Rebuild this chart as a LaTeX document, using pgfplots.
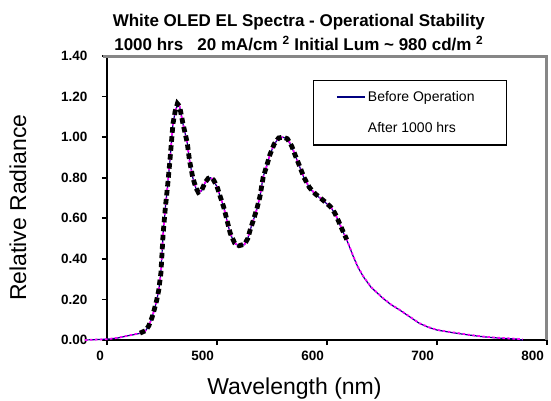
\documentclass[border=0pt]{standalone}
\usepackage{fontspec}
\setmainfont{Liberation Sans}
\usepackage{pgfplots}
\usepackage{pgfplotstable}
\pgfplotsset{compat=1.18}
\definecolor{navy}{RGB}{0,0,128}
\definecolor{mag}{RGB}{255,0,255}

\pgfplotstableread{
wl before after
380 0.000 0.000
390 0.002 0.002
400 0.004 0.004
410 0.010 0.011
418 0.020 0.020
425 0.027 0.028
430 0.033 0.034
435 0.045 0.046
438 0.070 0.070
441 0.110 0.112
443 0.150 0.150
445 0.190 0.192
447 0.245 0.245
449 0.330 0.330
451 0.520 0.522
453 0.650 0.650
455 0.755 0.755
457 0.870 0.872
460 1.067 1.067
462 1.125 1.128
464 1.160 1.165
466 1.150 1.152
469 1.067 1.068
471 1.020 1.020
473 0.970 0.970
475 0.887 0.885
478 0.800 0.800
481 0.745 0.748
483 0.725 0.728
486 0.735 0.738
489 0.772 0.775
492 0.795 0.797
494 0.800 0.802
497 0.785 0.788
500 0.755 0.757
503 0.706 0.706
506 0.657 0.657
509 0.590 0.592
512 0.525 0.527
516 0.476 0.478
520 0.464 0.465
525 0.470 0.472
528 0.500 0.500
530 0.540 0.540
533 0.590 0.590
536 0.640 0.642
539 0.706 0.706
542 0.805 0.803
545 0.854 0.855
548 0.911 0.912
552 0.965 0.966
556 0.995 0.996
560 1.000 1.000
564 0.990 0.992
568 0.952 0.955
571 0.910 0.912
574 0.870 0.872
579 0.800 0.802
584 0.750 0.752
589 0.720 0.722
594 0.698 0.700
598 0.680 0.682
603 0.657 0.658
607 0.625 0.627
610 0.590 0.592
614 0.540 0.542
618 0.493 0.495
624 0.410 0.412
628 0.360 0.362
633 0.312 0.314
640 0.260 0.262
645 0.235 0.236
651 0.205 0.206
658 0.175 0.176
666 0.148 0.149
675 0.115 0.116
684 0.082 0.083
692 0.063 0.064
700 0.049 0.050
710 0.040 0.041
718 0.033 0.035
730 0.024 0.025
742 0.016 0.017
755 0.010 0.011
765 0.007 0.008
772 0.005 0.006
778 0.000 0.004
}\spectra

\begin{document}
\begin{tikzpicture}
\begin{axis}[
  at={(0pt,0pt)}, anchor=south west,
  scale only axis, width=440pt, height=284pt,
  xmin=400, xmax=800, ymin=0, ymax=1.4,
  clip=false,
  axis x line*=bottom, axis y line*=left,
  axis line style={-, black, line width=1.8pt},
  xtick={400,500,600,700,800}, xticklabels={0,500,600,700,800},
  ytick={0,0.2,0.4,0.6,0.8,1.0,1.2,1.4},
  yticklabels={0.00,0.20,0.40,0.60,0.80,1.00,1.20,1.40},
  tick align=outside, major tick length=5pt,
  tick style={black, line width=1.8pt},
  ticklabel style={font=\bfseries\fontsize{13.5}{16}\selectfont},
  xticklabel style={anchor=north east, xshift=0.5pt, yshift=-3pt},
  yticklabel style={xshift=-11pt},
  xlabel={Wavelength (nm)},
  xlabel style={at={(axis description cs:0.426,-0.192)}, anchor=base, font=\fontsize{23}{27}\selectfont},
  ylabel={Relative Radiance},
  ylabel style={at={(axis description cs:-0.184,0.466)}, anchor=base, font=\fontsize{23}{27}\selectfont},
  title={White OLED EL Spectra - Operational Stability\\1000 hrs\ \ \ 20 mA/cm \textsuperscript{2} Initial Lum \textasciitilde{} 980 cd/m \textsuperscript{2}},
  title style={at={(axis description cs:0.436,1.126)}, anchor=north, align=center, inner sep=0pt, font=\bfseries\fontsize{17}{24}\selectfont},
  legend style={at={(axis description cs:0.468,0.9155)}, anchor=north west, draw=black, line width=1.3pt, fill=white,
    font=\fontsize{14}{16}\selectfont, inner xsep=22pt, inner ysep=8.5pt, row sep=16pt},
  legend cell align=left,
]
\addplot[navy, line width=1.2pt, legend image code/.code={\draw[navy, line width=2.4pt] (0pt,0pt) -- (28pt,0pt);}]
  table[x=wl,y=before]{\spectra};
\addlegendentry{Before Operation\hspace*{8pt}}
\addplot[mag, line width=1.8pt, dash pattern=on 2.5pt off 2.5pt, forget plot] table[x=wl,y=after]{\spectra};
\addplot[black, line width=4.8pt, dash pattern=on 5.5pt off 3.5pt, forget plot, restrict x to domain=427:620] table[x=wl,y=after]{\spectra};
\addlegendimage{empty legend}
\addlegendentry{After 1000 hrs}
\draw[black!47, line width=3pt] (axis cs:396,1.396) -- (axis cs:799.3,1.396) -- (axis cs:799.3,0);
\end{axis}
\pgfresetboundingbox
\useasboundingbox (-107pt,-60pt) rectangle (444pt,340pt);
\end{tikzpicture}
\end{document}
